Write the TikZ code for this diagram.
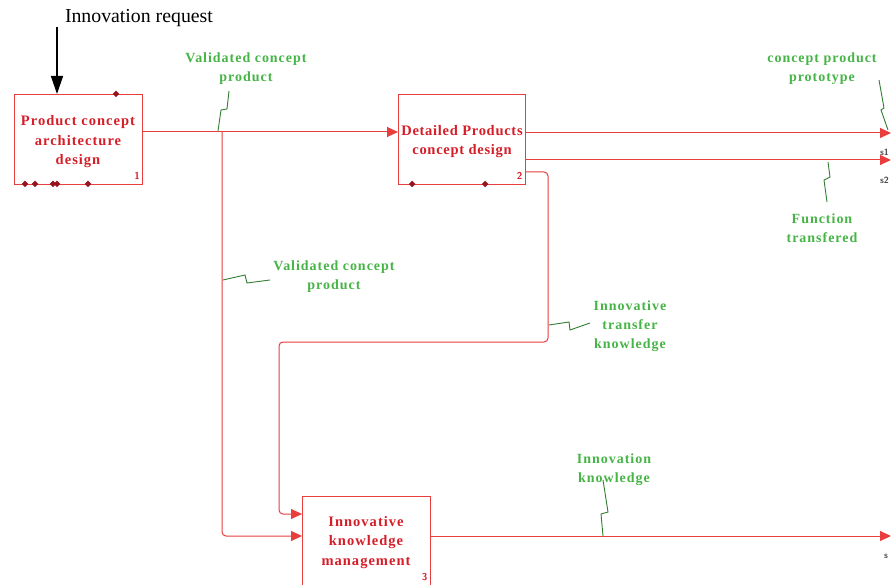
\documentclass[tikz,border=0pt]{standalone}
\usepackage{fontspec}
\setmainfont{Liberation Serif}
\newfontfamily\spacedserif[LetterSpace=7]{Liberation Serif}
\usetikzlibrary{arrows.meta,shapes.geometric}
\definecolor{idefred}{RGB}{232,62,62}
\definecolor{idefrtext}{RGB}{214,30,40}
\definecolor{idefgreen}{RGB}{70,180,70}
\definecolor{idefdot}{RGB}{150,20,30}
\definecolor{sgrey}{RGB}{70,70,70}
\tikzset{
  every node/.style={inner sep=0pt, outer sep=0pt},
  actbox/.style={draw=idefred, line width=0.9pt, fill=white},
  boxtext/.style={text=idefrtext, align=center, font=\spacedserif\bfseries\fontsize{14.5}{19.5}\selectfont},
  lbl/.style={text=idefgreen, align=center, font=\spacedserif\bfseries\fontsize{14}{19}\selectfont},
  flow/.style={draw=idefred, line width=1pt, -{Triangle[length=11pt,width=10pt]}, rounded corners=4pt},
  flowplain/.style={draw=idefred, line width=1pt, rounded corners=4pt},
  squig/.style={draw=idefgreen!70!black, line width=0.9pt},
  dot/.style={diamond, fill=idefdot, minimum size=6.5pt},
  boxnum/.style={text=idefrtext, font=\sffamily\bfseries\fontsize{10}{10}\selectfont},
  snum/.style={text=sgrey, anchor=west, font=\sffamily\bfseries\fontsize{9}{9}\selectfont}
}
\begin{document}
\begin{tikzpicture}[x=1pt,y=-1pt]
\clip (0,0) rectangle (891,585);
\fill[white] (0,0) rectangle (891,585);

% boxes
\node[actbox, minimum width=128pt, minimum height=90pt] (b1) at (78,139) {};
\node[actbox, minimum width=127pt, minimum height=90pt] (b2) at (461.5,139) {};
\node[actbox, minimum width=128pt, minimum height=100pt] (b3) at (366,546) {};

\node[boxtext] (t1) at (78,142) {Product concept\\architecture\\design};
\node[boxtext] (t2) at (462,141.5) {\addfontfeatures{LetterSpace=5}Detailed Products\\\addfontfeatures{LetterSpace=5}concept design};
\node[boxtext] (t3) at (366,542.5) {Innovative\\knowledge\\management};

\node[boxnum] (n1) at (137,176) {1};
\node[boxnum] (n2) at (519.5,176) {2};
\node[boxnum] (n3) at (424.5,577) {3};

% diamonds
\node[dot] (d1) at (116,94) {};
\node[dot] (d2) at (25,184) {};
\node[dot] (d3) at (35,184) {};
\node[dot] (d4) at (53,184) {};
\node[dot] (d5) at (57,184) {};
\node[dot] (d6) at (88,184) {};
\node[dot] (d7) at (412,184) {};
\node[dot] (d8) at (485,184) {};

% innovation request
\node[font=\fontsize{19.8}{19.8}\selectfont, anchor=west] (req) at (65,18) {Innovation request};
\coordinate (reqtop) at (57,27);
\draw[line width=1.4pt, -{Triangle[length=18pt,width=12pt]}] (reqtop) -- (reqtop |- b1.north);

% connectors
\coordinate (j) at (222,132);
\coordinate (o1) at (891,133);
\coordinate (o2) at (891,160);
\coordinate (o3) at (891,536);
\coordinate (k1) at (548,342);
\coordinate (k2) at (279,514);
\draw[flowplain] (b1.east |- j) -- (j);
\draw[flow] (j) -- (b2.west |- j);
\draw[flow] (j) |- (b3.west |- o3);
\draw[flow] (b2.east |- o1) -- (o1);
\draw[flow] (b2.east |- o2) -- (o2);
\draw[flow] (b2.east |- 0,172) -| (k1) -| (k2) -- (b3.west |- k2);
\draw[flow] (b3.east |- o3) -- (o3);

\node[snum] (s1) at (880,152) {s1};
\node[snum] (s2) at (880,180) {s2};
\node[snum] (s3) at (884,556) {s};

% green labels
\node[lbl] (l1) at (246,68.5) {Validated concept\\product};
\node[lbl] (l2) at (822,68.5) {concept product\\prototype};
\node[lbl] (l3) at (822,228.5) {Function\\transfered};
\node[lbl] (l4) at (334,277) {Validated concept\\product};
\node[lbl] (l5) at (630,326) {Innovative\\transfer\\knowledge};
\node[lbl] (l6) at (614,469.5) {Innovation\\knowledge};

% squiggles
\draw[squig] (229,91) -- (227,109) -- (221,110) -- (218,131);
\draw[squig] (879,80) -- (884,108) -- (881,110) -- (888,130);
\draw[squig] (828,162) -- (830,177) -- (824,180) -- (827,202);
\draw[squig] (223,280) -- (245,275) -- (247,283) -- (270,280);
\draw[squig] (549,325) -- (569,322) -- (570,330) -- (590,323);
\draw[squig] (603,480) -- (608,512) -- (601,514) -- (603,536);
\end{tikzpicture}
\end{document}
